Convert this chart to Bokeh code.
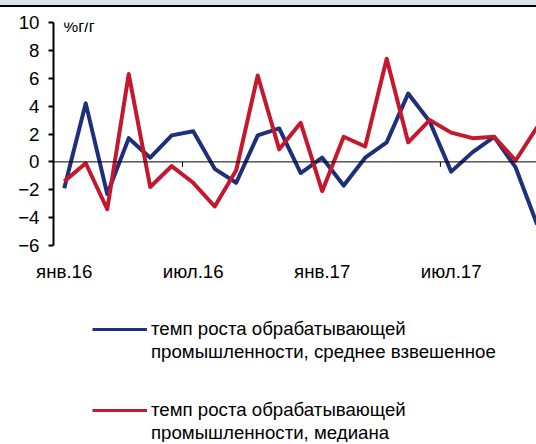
from bokeh.plotting import figure
from bokeh.layouts import column
from bokeh.models import Range1d, FixedTicker, Span, Legend, LegendItem, Label
from bokeh.embed import file_html
from bokeh.resources import INLINE

month_names = ["янв", "фев", "мар", "апр", "май", "июн", "июл", "авг", "сен", "окт", "ноя", "дек"]
months = [f"{month_names[i % 12]}.{16 + i // 12}" for i in range(23)]

weighted = [-1.9, 4.2, -2.3, 1.7, 0.3, 1.9, 2.2, -0.5, -1.5, 1.9, 2.4, -0.8,
            0.3, -1.7, 0.3, 1.4, 4.9, 2.9, -0.7, 0.7, 1.8, -0.4, -4.5]
median = [-1.4, -0.1, -3.4, 6.3, -1.8, -0.3, -1.5, -3.2, -0.6, 6.2, 0.9, 2.8,
          -2.1, 1.8, 1.1, 7.4, 1.4, 3.0, 2.1, 1.7, 1.8, 0.1, 2.5]

y_ticks = [-6, -4, -2, 0, 2, 4, 6, 8, 10]
label_step = 6
name_weighted = ["темп роста обрабатывающей", "промышленности, среднее взвешенное"]
name_median = ["темп роста обрабатывающей", "промышленности, медиана"]
unit_label = "%г/г"

BLUE = "#1E2F7C"
RED = "#C4182F"
BAND = "#DDE4EF"
FONT = "Liberation Sans"
FS = "18.67px"

xs = list(range(len(months)))

p = figure(width=536, height=293, output_backend="svg", toolbar_location=None,
           x_range=Range1d(-0.5, 21.97), y_range=Range1d(-6, 10),
           min_border_left=53, min_border_right=0, min_border_top=15,
           min_border_bottom=55, outline_line_color=None,
           styles={"border-top": "2px solid #000000"})
p.xgrid.visible = False
p.ygrid.visible = False

# zero line and category-boundary ticks
p.add_layout(Span(location=0, dimension="width", line_color="black", line_width=1))
bx = [i - 0.5 for i in range(label_step, len(months), label_step)]
p.segment(x0=bx, x1=bx, y0=[0] * len(bx), y1=[-0.36] * len(bx), line_color="black", line_width=1)

p.line(xs, weighted, line_color=BLUE, line_width=4, line_join="round")
p.line(xs, median, line_color=RED, line_width=4, line_join="round")

# axes
p.yaxis.ticker = FixedTicker(ticks=y_ticks)
p.yaxis.axis_line_width = 2
p.yaxis.axis_line_color = "black"
p.yaxis.major_tick_line_width = 2
p.yaxis.major_tick_in = 0
p.yaxis.major_tick_out = 5
p.yaxis.minor_tick_line_color = None
p.yaxis.major_label_standoff = 9
p.yaxis.major_label_text_font = FONT
p.yaxis.major_label_text_font_size = FS
p.yaxis.major_label_text_color = "black"

p.xaxis.ticker = FixedTicker(ticks=xs[::label_step])
p.xaxis.major_label_overrides = {i: months[i] for i in xs[::label_step]}
p.xaxis.axis_line_color = None
p.xaxis.major_tick_line_color = None
p.xaxis.minor_tick_line_color = None
p.xaxis.major_tick_out = 0
p.xaxis.major_tick_in = 0
p.xaxis.major_label_standoff = 15
p.xaxis.major_label_text_font = FONT
p.xaxis.major_label_text_font_size = FS
p.xaxis.major_label_text_color = "black"

p.add_layout(Label(x=-0.5, y=10, x_offset=10, y_offset=6, text=unit_label,
                   text_font=FONT, text_font_size="16.5px", text_baseline="top",
                   text_color="black"))

# legend panel (series drawn outside its visible range so only the legend shows)
q = figure(width=536, height=144, output_backend="svg", toolbar_location=None,
           x_axis_location=None, y_axis_location=None, outline_line_color=None,
           min_border=0, x_range=Range1d(-100, -99), y_range=Range1d(-100, -99))
q.xgrid.visible = False
q.ygrid.visible = False
lw = q.line(xs, weighted, line_color=BLUE, line_width=3)
lm = q.line(xs, median, line_color=RED, line_width=3)


def make_legend(renderer, lines, vy):
    return Legend(items=[LegendItem(label=lines[0], renderers=[renderer]),
                         LegendItem(label=lines[1], renderers=[])],
                  location=(39, vy), orientation="vertical",
                  border_line_color=None, background_fill_alpha=0,
                  padding=0, margin=0, spacing=0, glyph_width=55, glyph_height=20,
                  label_height=23, label_standoff=4, label_text_font=FONT,
                  label_text_font_size=FS, label_text_line_height=1.25,
                  label_text_color="black")


q.add_layout(make_legend(lw, name_weighted, 79), "center")
q.add_layout(make_legend(lm, name_median, -2), "center")

layout = column(p, q, spacing=0, styles={"border-top": f"5px solid {BAND}"})
open("out.html", "w").write(file_html(layout, INLINE))
